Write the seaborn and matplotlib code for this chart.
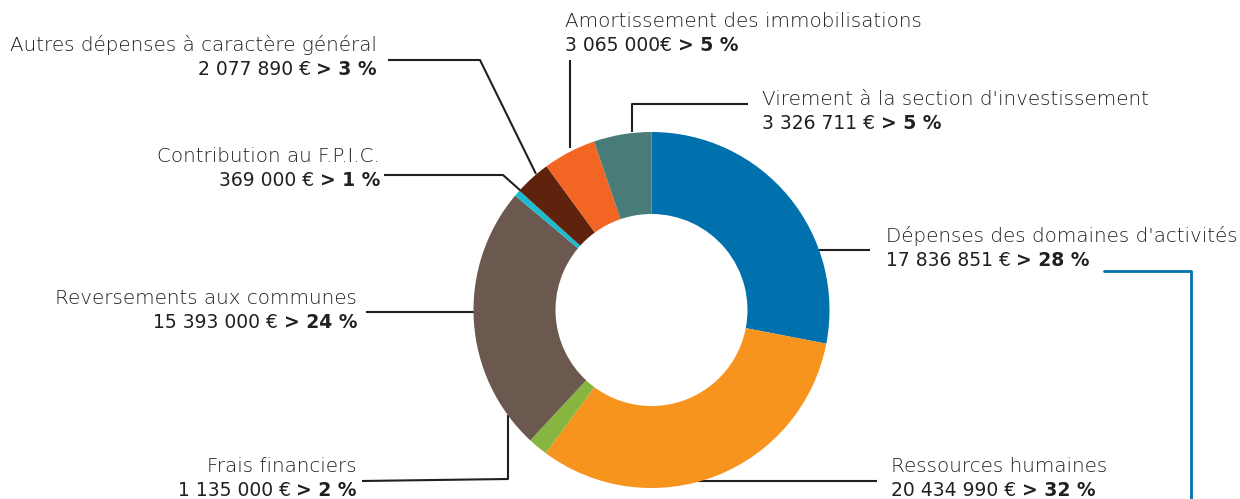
import matplotlib
matplotlib.use('Agg')
import matplotlib.pyplot as plt
import seaborn as sns

# données
categories = ["Dépenses des domaines d'activités", "Ressources humaines", "Frais financiers",
              "Reversements aux communes", "Contribution au F.P.I.C.",
              "Autres dépenses à caractère général", "Amortissement des immobilisations",
              "Virement à la section d'investissement"]
montants = [17836851, 20434990, 1135000, 15393000, 369000, 2077890, 3065000, 3326711]
montants_txt = ["17 836 851 €", "20 434 990 €", "1 135 000 €", "15 393 000 €",
                "369 000 €", "2 077 890 €", "3 065 000€", "3 326 711 €"]
pourcents = ["> 28 %", "> 32 %", "> 2 %", "> 24 %", "> 1 %", "> 3 %", "> 5 %", "> 5 %"]
couleurs = ["#0071ad", "#f7941d", "#86b540", "#6b5950", "#1bbccf", "#5f230d", "#f26522", "#497c79"]

# mise en page des étiquettes (pixels, y vers le bas)
pos_txt = [(886, 236, 'left'), (891, 467, 'left'), (357, 466, 'right'), (357, 298, 'right'),
           (380, 157, 'right'), (377, 45, 'right'), (565, 21, 'left'), (762, 99, 'left')]
traits = [[(819, 250), (870, 250)],
          [(651, 481), (877, 481)],
          [(362, 481), (508, 479), (508, 415)],
          [(366, 312), (474, 312)],
          [(384, 175), (503, 175), (521, 191)],
          [(388, 60), (480, 60), (536, 174)],
          [(570, 60), (570, 148)],
          [(748, 104), (632, 104), (632, 132)]]

sns.set_theme(style='white')
plt.rcParams['font.family'] = ['DejaVu Sans']

fig = plt.figure(figsize=(12.4, 4.99), dpi=100)
ax = fig.add_axes([0, 0, 1, 1])

ax.pie(montants, colors=couleurs, center=(651.5, 310), radius=178,
       startangle=-90, counterclock=True, frame=True,
       wedgeprops=dict(width=82, linewidth=0, zorder=2))

encre = '#231f20'
for t in traits:
    xs, ys = zip(*t)
    ax.plot(xs, ys, color=encre, lw=1.5, zorder=1, solid_capstyle='butt')
# trait bleu vers le graphique suivant
ax.plot([1104, 1191, 1191], [271, 271, 505], color='#0071ad', lw=2, zorder=1)

for cat, mt, pc, (x, y, ha) in zip(categories, montants_txt, pourcents, pos_txt):
    ax.text(x, y, cat, ha=ha, va='center', fontsize=14.3, fontweight='light', color='#1e1e1e')
    if ha == 'left':
        t1 = ax.text(x, y + 24, mt, ha='left', va='center', fontsize=13.5, color=encre)
        ax.annotate(pc, xy=(1, 0.5), xycoords=t1, xytext=(4, 0), textcoords='offset points',
                    ha='left', va='center', fontsize=13.5, fontweight='bold', color=encre)
    else:
        t1 = ax.text(x, y + 24, pc, ha='right', va='center', fontsize=13.5, fontweight='bold', color=encre)
        ax.annotate(mt, xy=(0, 0.5), xycoords=t1, xytext=(-4, 0), textcoords='offset points',
                    ha='right', va='center', fontsize=13.5, color=encre)

ax.set_xlim(0, 1240)
ax.set_ylim(499, 0)
ax.axis('off')

plt.savefig('out.png', dpi=100)
